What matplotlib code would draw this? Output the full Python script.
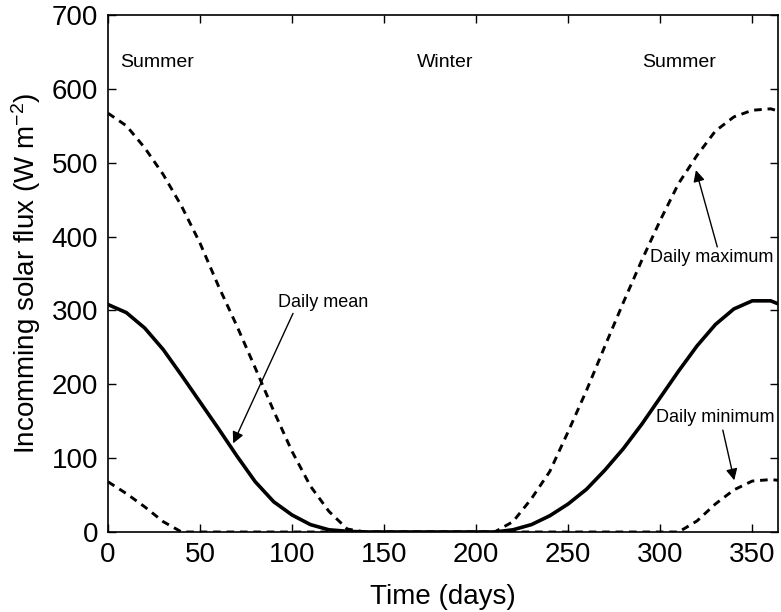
import numpy as np
import matplotlib.pyplot as plt

plt.rcParams["font.family"] = ["Liberation Sans", "DejaVu Sans"]
plt.rcParams["mathtext.default"] = "regular"

# day of year (every 10 days, plus the last day)
days = [0, 10, 20, 30, 40, 50, 60, 70, 80, 90, 100, 110, 120, 130, 140, 150, 160, 170,
        180, 190, 200, 210, 220, 230, 240, 250, 260, 270, 280, 290, 300, 310, 320, 330,
        340, 350, 360, 364]

# incoming solar flux, W m^-2
daily_mean = [308, 297, 276, 247, 212, 176, 140, 103, 68, 41, 23, 10, 3, 1, 0, 0, 0, 0,
              0, 0, 0, 0, 3, 10, 22, 38, 58, 84, 113, 146, 182, 218, 252, 281,
              302, 313, 313, 309]
daily_max = [567, 550, 520, 484, 441, 391, 333, 279, 222, 164, 109, 62, 28, 4, 0, 0, 0, 0,
             0, 0, 0, 0, 14, 45, 82, 136, 192, 252, 311, 368, 422, 472, 510, 543,
             562, 571, 573, 570]
daily_min = [68, 52, 34, 14, 0, 0, 0, 0, 0, 0, 0, 0, 0, 0, 0, 0, 0, 0,
             0, 0, 0, 0, 0, 0, 0, 0, 0, 0, 0, 0, 0, 0, 15, 38,
             57, 69, 71, 70]

seasons = ["Summer", "Winter", "Summer"]
season_x = [26.6, 183, 310]
season_y = 636

# (label, text position, arrow tail, arrow tip) in data coords
callouts = [
    ("Daily mean", (116.6, 311), (100.5, 296), (68, 120)),
    ("Daily maximum", (328.0, 372), (331, 386), (319.4, 490)),
    ("Daily minimum", (330.0, 155), (334, 138), (340.2, 70)),
]

fig = plt.figure(figsize=(7.81, 6.12), dpi=100)
ax = fig.add_axes([0.1383, 0.1307, 0.8579, 0.8448])

dash = (0, (2.6, 2.0))
ax.plot(days, daily_max, color="black", lw=2.1, linestyle=dash)
ax.plot(days, daily_min, color="black", lw=2.1, linestyle=dash)
ax.plot(days, daily_mean, color="black", lw=2.6, solid_joinstyle="round")

for name, x in zip(seasons, season_x):
    ax.text(x, season_y, name, ha="center", va="center", fontsize=14)

for label, txt, tail, tip in callouts:
    ax.text(txt[0], txt[1], label, ha="center", va="center", fontsize=13)
    ax.annotate("", xy=tip, xytext=tail,
                arrowprops=dict(arrowstyle="-|>", color="black", lw=1.0,
                                mutation_scale=17, shrinkA=0, shrinkB=0))

ax.set_xlim(0, 364)
ax.set_ylim(0, 700)
ax.set_xticks(np.arange(0, 351, 50))
ax.set_yticks(np.arange(0, 701, 100))
ax.tick_params(direction="in", length=6, width=1.0, top=True, right=True,
               labelsize=20, pad=7)
for s in ax.spines.values():
    s.set_linewidth(1.2)

ax.set_xlabel("Time (days)", fontsize=20, labelpad=12)
ax.set_ylabel("Incomming solar flux (W m$^{-2}$)", fontsize=20, labelpad=6)

fig.savefig("out.png", dpi=100)
